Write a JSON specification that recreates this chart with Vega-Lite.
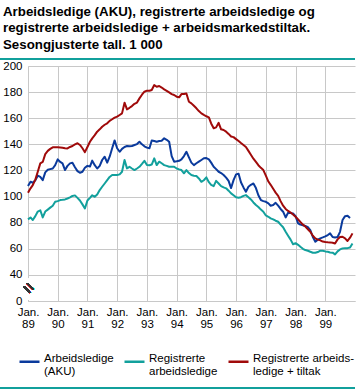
{
  "$schema": "https://vega.github.io/schema/vega-lite/v6.json",
  "width": 327,
  "height": 235,
  "autosize": {"type": "none"},
  "padding": {"left": 28, "top": 66, "right": 4, "bottom": 89},
  "background": "white",
  "config": {"view": {"stroke": null}, "font": "Liberation Sans", "axis": {"labelOverlap": false}},
  "title": {
    "text": ["Arbeidsledige (AKU), registrerte arbeidsledige og", "registrerte arbeidsledige + arbeidsmarkedstiltak.", "Sesongjusterte tall. 1 000"],
    "anchor": "start",
    "frame": "group",
    "font": "Liberation Sans",
    "fontSize": 13.3,
    "fontWeight": "bold",
    "color": "#000000",
    "lineHeight": 16.5,
    "dx": -25,
    "dy": 3,
    "offset": 10
  },
  "data": {"values": [
    {"d":"1989-01","s":"AKU","v":108},{"d":"1989-02","s":"AKU","v":111.4},{"d":"1989-03","s":"AKU","v":110.6},{"d":"1989-04","s":"AKU","v":112.5},{"d":"1989-05","s":"AKU","v":116},{"d":"1989-06","s":"AKU","v":115},
    {"d":"1989-07","s":"AKU","v":112.6},{"d":"1989-08","s":"AKU","v":118.5},{"d":"1989-09","s":"AKU","v":120.5},{"d":"1989-10","s":"AKU","v":121},{"d":"1989-11","s":"AKU","v":121.5},{"d":"1989-12","s":"AKU","v":124},
    {"d":"1990-01","s":"AKU","v":128.5},{"d":"1990-02","s":"AKU","v":126.5},{"d":"1990-03","s":"AKU","v":125.4},{"d":"1990-04","s":"AKU","v":120.3},{"d":"1990-05","s":"AKU","v":123.5},{"d":"1990-06","s":"AKU","v":125.4},
    {"d":"1990-07","s":"AKU","v":125.9},{"d":"1990-08","s":"AKU","v":122.5},{"d":"1990-09","s":"AKU","v":119.5},{"d":"1990-10","s":"AKU","v":118.2},{"d":"1990-11","s":"AKU","v":119},{"d":"1990-12","s":"AKU","v":122},
    {"d":"1991-01","s":"AKU","v":123.5},{"d":"1991-02","s":"AKU","v":123},{"d":"1991-03","s":"AKU","v":127.5},{"d":"1991-04","s":"AKU","v":124},{"d":"1991-05","s":"AKU","v":121.5},{"d":"1991-06","s":"AKU","v":123.5},
    {"d":"1991-07","s":"AKU","v":128},{"d":"1991-08","s":"AKU","v":130.5},{"d":"1991-09","s":"AKU","v":126},{"d":"1991-10","s":"AKU","v":130.5},{"d":"1991-11","s":"AKU","v":137},{"d":"1991-12","s":"AKU","v":143},
    {"d":"1992-01","s":"AKU","v":137},{"d":"1992-02","s":"AKU","v":134.3},{"d":"1992-03","s":"AKU","v":136.5},{"d":"1992-04","s":"AKU","v":138},{"d":"1992-05","s":"AKU","v":138.7},{"d":"1992-06","s":"AKU","v":138.5},
    {"d":"1992-07","s":"AKU","v":138.7},{"d":"1992-08","s":"AKU","v":139.5},{"d":"1992-09","s":"AKU","v":140.2},{"d":"1992-10","s":"AKU","v":142},{"d":"1992-11","s":"AKU","v":140},{"d":"1992-12","s":"AKU","v":138.5},
    {"d":"1993-01","s":"AKU","v":137.5},{"d":"1993-02","s":"AKU","v":137},{"d":"1993-03","s":"AKU","v":143},{"d":"1993-04","s":"AKU","v":142.5},{"d":"1993-05","s":"AKU","v":142},{"d":"1993-06","s":"AKU","v":142.5},
    {"d":"1993-07","s":"AKU","v":142.8},{"d":"1993-08","s":"AKU","v":144.6},{"d":"1993-09","s":"AKU","v":143.5},{"d":"1993-10","s":"AKU","v":142},{"d":"1993-11","s":"AKU","v":131},{"d":"1993-12","s":"AKU","v":126.7},
    {"d":"1994-01","s":"AKU","v":127},{"d":"1994-02","s":"AKU","v":127.4},{"d":"1994-03","s":"AKU","v":128.5},{"d":"1994-04","s":"AKU","v":131},{"d":"1994-05","s":"AKU","v":134.3},{"d":"1994-06","s":"AKU","v":130},
    {"d":"1994-07","s":"AKU","v":126},{"d":"1994-08","s":"AKU","v":124.1},{"d":"1994-09","s":"AKU","v":125.5},{"d":"1994-10","s":"AKU","v":126.7},{"d":"1994-11","s":"AKU","v":128},{"d":"1994-12","s":"AKU","v":129.3},
    {"d":"1995-01","s":"AKU","v":129.5},{"d":"1995-02","s":"AKU","v":128.5},{"d":"1995-03","s":"AKU","v":126},{"d":"1995-04","s":"AKU","v":122.8},{"d":"1995-05","s":"AKU","v":121},{"d":"1995-06","s":"AKU","v":119},
    {"d":"1995-07","s":"AKU","v":118},{"d":"1995-08","s":"AKU","v":116.5},{"d":"1995-09","s":"AKU","v":114.5},{"d":"1995-10","s":"AKU","v":112},{"d":"1995-11","s":"AKU","v":106.5},{"d":"1995-12","s":"AKU","v":112.6},
    {"d":"1996-01","s":"AKU","v":117},{"d":"1996-02","s":"AKU","v":117.5},{"d":"1996-03","s":"AKU","v":111},{"d":"1996-04","s":"AKU","v":107},{"d":"1996-05","s":"AKU","v":103.7},{"d":"1996-06","s":"AKU","v":107.5},
    {"d":"1996-07","s":"AKU","v":109},{"d":"1996-08","s":"AKU","v":110},{"d":"1996-09","s":"AKU","v":106.5},{"d":"1996-10","s":"AKU","v":101},{"d":"1996-11","s":"AKU","v":97.3},{"d":"1996-12","s":"AKU","v":96.5},
    {"d":"1997-01","s":"AKU","v":96},{"d":"1997-02","s":"AKU","v":94.8},{"d":"1997-03","s":"AKU","v":93},{"d":"1997-04","s":"AKU","v":93.5},{"d":"1997-05","s":"AKU","v":95.2},{"d":"1997-06","s":"AKU","v":93},
    {"d":"1997-07","s":"AKU","v":90.5},{"d":"1997-08","s":"AKU","v":88.4},{"d":"1997-09","s":"AKU","v":84},{"d":"1997-10","s":"AKU","v":87.6},{"d":"1997-11","s":"AKU","v":87.3},{"d":"1997-12","s":"AKU","v":87},
    {"d":"1998-01","s":"AKU","v":85},{"d":"1998-02","s":"AKU","v":79.5},{"d":"1998-03","s":"AKU","v":78.5},{"d":"1998-04","s":"AKU","v":78},{"d":"1998-05","s":"AKU","v":77.5},{"d":"1998-06","s":"AKU","v":76.5},
    {"d":"1998-07","s":"AKU","v":74.3},{"d":"1998-08","s":"AKU","v":69},{"d":"1998-09","s":"AKU","v":65.4},{"d":"1998-10","s":"AKU","v":67},{"d":"1998-11","s":"AKU","v":68},{"d":"1998-12","s":"AKU","v":68.7},
    {"d":"1999-01","s":"AKU","v":69.5},{"d":"1999-02","s":"AKU","v":70.5},{"d":"1999-03","s":"AKU","v":71.8},{"d":"1999-04","s":"AKU","v":69},{"d":"1999-05","s":"AKU","v":68.7},{"d":"1999-06","s":"AKU","v":69},
    {"d":"1999-07","s":"AKU","v":73},{"d":"1999-08","s":"AKU","v":82},{"d":"1999-09","s":"AKU","v":85},{"d":"1999-10","s":"AKU","v":85.3},{"d":"1999-11","s":"AKU","v":83.5},

    {"d":"1989-01","s":"Reg","v":82.5},{"d":"1989-02","s":"Reg","v":84},{"d":"1989-03","s":"Reg","v":82},{"d":"1989-04","s":"Reg","v":85},{"d":"1989-05","s":"Reg","v":88.5},{"d":"1989-06","s":"Reg","v":89.5},
    {"d":"1989-07","s":"Reg","v":84},{"d":"1989-08","s":"Reg","v":88.5},{"d":"1989-09","s":"Reg","v":90},{"d":"1989-10","s":"Reg","v":91.5},{"d":"1989-11","s":"Reg","v":93},{"d":"1989-12","s":"Reg","v":96},
    {"d":"1990-01","s":"Reg","v":96.5},{"d":"1990-02","s":"Reg","v":97.3},{"d":"1990-03","s":"Reg","v":97.5},{"d":"1990-04","s":"Reg","v":97.8},{"d":"1990-05","s":"Reg","v":98.5},{"d":"1990-06","s":"Reg","v":99.4},
    {"d":"1990-07","s":"Reg","v":100.5},{"d":"1990-08","s":"Reg","v":100.9},{"d":"1990-09","s":"Reg","v":99},{"d":"1990-10","s":"Reg","v":97},{"d":"1990-11","s":"Reg","v":94},{"d":"1990-12","s":"Reg","v":90.9},
    {"d":"1991-01","s":"Reg","v":97},{"d":"1991-02","s":"Reg","v":99},{"d":"1991-03","s":"Reg","v":101},{"d":"1991-04","s":"Reg","v":99.8},{"d":"1991-05","s":"Reg","v":101.5},{"d":"1991-06","s":"Reg","v":105},
    {"d":"1991-07","s":"Reg","v":107.5},{"d":"1991-08","s":"Reg","v":110},{"d":"1991-09","s":"Reg","v":112.5},{"d":"1991-10","s":"Reg","v":115},{"d":"1991-11","s":"Reg","v":116.5},{"d":"1991-12","s":"Reg","v":116.5},
    {"d":"1992-01","s":"Reg","v":116.5},{"d":"1992-02","s":"Reg","v":117},{"d":"1992-03","s":"Reg","v":119},{"d":"1992-04","s":"Reg","v":128},{"d":"1992-05","s":"Reg","v":121.6},{"d":"1992-06","s":"Reg","v":122.8},
    {"d":"1992-07","s":"Reg","v":121.5},{"d":"1992-08","s":"Reg","v":120.3},{"d":"1992-09","s":"Reg","v":121.5},{"d":"1992-10","s":"Reg","v":122.8},{"d":"1992-11","s":"Reg","v":125},{"d":"1992-12","s":"Reg","v":127.4},
    {"d":"1993-01","s":"Reg","v":124.1},{"d":"1993-02","s":"Reg","v":124},{"d":"1993-03","s":"Reg","v":124.5},{"d":"1993-04","s":"Reg","v":129.3},{"d":"1993-05","s":"Reg","v":124.1},{"d":"1993-06","s":"Reg","v":126.7},
    {"d":"1993-07","s":"Reg","v":125.5},{"d":"1993-08","s":"Reg","v":124.1},{"d":"1993-09","s":"Reg","v":123.5},{"d":"1993-10","s":"Reg","v":122.8},{"d":"1993-11","s":"Reg","v":122.8},{"d":"1993-12","s":"Reg","v":122.8},
    {"d":"1994-01","s":"Reg","v":121.5},{"d":"1994-02","s":"Reg","v":120.8},{"d":"1994-03","s":"Reg","v":120.3},{"d":"1994-04","s":"Reg","v":117.8},{"d":"1994-05","s":"Reg","v":120.3},{"d":"1994-06","s":"Reg","v":118},
    {"d":"1994-07","s":"Reg","v":116.5},{"d":"1994-08","s":"Reg","v":116},{"d":"1994-09","s":"Reg","v":115.7},{"d":"1994-10","s":"Reg","v":113.9},{"d":"1994-11","s":"Reg","v":111.3},{"d":"1994-12","s":"Reg","v":112.5},
    {"d":"1995-01","s":"Reg","v":114.7},{"d":"1995-02","s":"Reg","v":111},{"d":"1995-03","s":"Reg","v":109},{"d":"1995-04","s":"Reg","v":108},{"d":"1995-05","s":"Reg","v":112},{"d":"1995-06","s":"Reg","v":110},
    {"d":"1995-07","s":"Reg","v":108},{"d":"1995-08","s":"Reg","v":107},{"d":"1995-09","s":"Reg","v":106.3},{"d":"1995-10","s":"Reg","v":104.5},{"d":"1995-11","s":"Reg","v":102.4},{"d":"1995-12","s":"Reg","v":101},
    {"d":"1996-01","s":"Reg","v":99.4},{"d":"1996-02","s":"Reg","v":99.1},{"d":"1996-03","s":"Reg","v":99.5},{"d":"1996-04","s":"Reg","v":100.5},{"d":"1996-05","s":"Reg","v":101.1},{"d":"1996-06","s":"Reg","v":99.5},
    {"d":"1996-07","s":"Reg","v":97.8},{"d":"1996-08","s":"Reg","v":95.5},{"d":"1996-09","s":"Reg","v":93.5},{"d":"1996-10","s":"Reg","v":92},{"d":"1996-11","s":"Reg","v":90},{"d":"1996-12","s":"Reg","v":88.4},
    {"d":"1997-01","s":"Reg","v":85.5},{"d":"1997-02","s":"Reg","v":84.5},{"d":"1997-03","s":"Reg","v":83.3},{"d":"1997-04","s":"Reg","v":82.5},{"d":"1997-05","s":"Reg","v":81.5},{"d":"1997-06","s":"Reg","v":80.7},
    {"d":"1997-07","s":"Reg","v":78.5},{"d":"1997-08","s":"Reg","v":76.5},{"d":"1997-09","s":"Reg","v":73},{"d":"1997-10","s":"Reg","v":70},{"d":"1997-11","s":"Reg","v":67},{"d":"1997-12","s":"Reg","v":63.5},
    {"d":"1998-01","s":"Reg","v":64.3},{"d":"1998-02","s":"Reg","v":63},{"d":"1998-03","s":"Reg","v":61.5},{"d":"1998-04","s":"Reg","v":60},{"d":"1998-05","s":"Reg","v":59},{"d":"1998-06","s":"Reg","v":58.5},
    {"d":"1998-07","s":"Reg","v":57.7},{"d":"1998-08","s":"Reg","v":57},{"d":"1998-09","s":"Reg","v":56.9},{"d":"1998-10","s":"Reg","v":57.5},{"d":"1998-11","s":"Reg","v":58.5},{"d":"1998-12","s":"Reg","v":58.5},
    {"d":"1999-01","s":"Reg","v":58},{"d":"1999-02","s":"Reg","v":57.7},{"d":"1999-03","s":"Reg","v":57.2},{"d":"1999-04","s":"Reg","v":57},{"d":"1999-05","s":"Reg","v":55.7},{"d":"1999-06","s":"Reg","v":58},
    {"d":"1999-07","s":"Reg","v":59.5},{"d":"1999-08","s":"Reg","v":60.3},{"d":"1999-09","s":"Reg","v":60.5},{"d":"1999-10","s":"Reg","v":60.5},{"d":"1999-11","s":"Reg","v":61},{"d":"1999-12","s":"Reg","v":64.1},

    {"d":"1989-01","s":"Tiltak","v":103},{"d":"1989-02","s":"Tiltak","v":106.3},{"d":"1989-03","s":"Tiltak","v":108.8},{"d":"1989-04","s":"Tiltak","v":113},{"d":"1989-05","s":"Tiltak","v":119},{"d":"1989-06","s":"Tiltak","v":125.4},
    {"d":"1989-07","s":"Tiltak","v":126.5},{"d":"1989-08","s":"Tiltak","v":132.5},{"d":"1989-09","s":"Tiltak","v":135},{"d":"1989-10","s":"Tiltak","v":136.5},{"d":"1989-11","s":"Tiltak","v":137.7},{"d":"1989-12","s":"Tiltak","v":137.7},
    {"d":"1990-01","s":"Tiltak","v":137.7},{"d":"1990-02","s":"Tiltak","v":137.5},{"d":"1990-03","s":"Tiltak","v":137.3},{"d":"1990-04","s":"Tiltak","v":137},{"d":"1990-05","s":"Tiltak","v":136.9},{"d":"1990-06","s":"Tiltak","v":138},
    {"d":"1990-07","s":"Tiltak","v":138.7},{"d":"1990-08","s":"Tiltak","v":140},{"d":"1990-09","s":"Tiltak","v":140.8},{"d":"1990-10","s":"Tiltak","v":139.5},{"d":"1990-11","s":"Tiltak","v":137},{"d":"1990-12","s":"Tiltak","v":134},
    {"d":"1991-01","s":"Tiltak","v":138},{"d":"1991-02","s":"Tiltak","v":142},{"d":"1991-03","s":"Tiltak","v":144.6},{"d":"1991-04","s":"Tiltak","v":147},{"d":"1991-05","s":"Tiltak","v":149.7},{"d":"1991-06","s":"Tiltak","v":151.5},
    {"d":"1991-07","s":"Tiltak","v":153.5},{"d":"1991-08","s":"Tiltak","v":155},{"d":"1991-09","s":"Tiltak","v":156.1},{"d":"1991-10","s":"Tiltak","v":158},{"d":"1991-11","s":"Tiltak","v":159.2},{"d":"1991-12","s":"Tiltak","v":160.5},
    {"d":"1992-01","s":"Tiltak","v":161.2},{"d":"1992-02","s":"Tiltak","v":162.5},{"d":"1992-03","s":"Tiltak","v":163.7},{"d":"1992-04","s":"Tiltak","v":171.9},{"d":"1992-05","s":"Tiltak","v":166.8},{"d":"1992-06","s":"Tiltak","v":168},
    {"d":"1992-07","s":"Tiltak","v":169.3},{"d":"1992-08","s":"Tiltak","v":171},{"d":"1992-09","s":"Tiltak","v":172},{"d":"1992-10","s":"Tiltak","v":175.2},{"d":"1992-11","s":"Tiltak","v":178},{"d":"1992-12","s":"Tiltak","v":180.3},
    {"d":"1993-01","s":"Tiltak","v":181.1},{"d":"1993-02","s":"Tiltak","v":181},{"d":"1993-03","s":"Tiltak","v":181.6},{"d":"1993-04","s":"Tiltak","v":185.4},{"d":"1993-05","s":"Tiltak","v":184.1},{"d":"1993-06","s":"Tiltak","v":184.7},
    {"d":"1993-07","s":"Tiltak","v":183.5},{"d":"1993-08","s":"Tiltak","v":182.1},{"d":"1993-09","s":"Tiltak","v":181},{"d":"1993-10","s":"Tiltak","v":179.8},{"d":"1993-11","s":"Tiltak","v":178.5},{"d":"1993-12","s":"Tiltak","v":177.8},
    {"d":"1994-01","s":"Tiltak","v":176.5},{"d":"1994-02","s":"Tiltak","v":176},{"d":"1994-03","s":"Tiltak","v":178.5},{"d":"1994-04","s":"Tiltak","v":178.5},{"d":"1994-05","s":"Tiltak","v":179},{"d":"1994-06","s":"Tiltak","v":172.6},
    {"d":"1994-07","s":"Tiltak","v":171.4},{"d":"1994-08","s":"Tiltak","v":169.5},{"d":"1994-09","s":"Tiltak","v":167.6},{"d":"1994-10","s":"Tiltak","v":165.5},{"d":"1994-11","s":"Tiltak","v":163.7},{"d":"1994-12","s":"Tiltak","v":162.5},
    {"d":"1995-01","s":"Tiltak","v":161.5},{"d":"1995-02","s":"Tiltak","v":160.7},{"d":"1995-03","s":"Tiltak","v":156},{"d":"1995-04","s":"Tiltak","v":152.3},{"d":"1995-05","s":"Tiltak","v":153},{"d":"1995-06","s":"Tiltak","v":156.5},
    {"d":"1995-07","s":"Tiltak","v":151.5},{"d":"1995-08","s":"Tiltak","v":151},{"d":"1995-09","s":"Tiltak","v":149.7},{"d":"1995-10","s":"Tiltak","v":148},{"d":"1995-11","s":"Tiltak","v":146},{"d":"1995-12","s":"Tiltak","v":145.5},
    {"d":"1996-01","s":"Tiltak","v":144},{"d":"1996-02","s":"Tiltak","v":142.5},{"d":"1996-03","s":"Tiltak","v":141},{"d":"1996-04","s":"Tiltak","v":139.5},{"d":"1996-05","s":"Tiltak","v":138},{"d":"1996-06","s":"Tiltak","v":135},
    {"d":"1996-07","s":"Tiltak","v":132},{"d":"1996-08","s":"Tiltak","v":129},{"d":"1996-09","s":"Tiltak","v":126.5},{"d":"1996-10","s":"Tiltak","v":124},{"d":"1996-11","s":"Tiltak","v":122},{"d":"1996-12","s":"Tiltak","v":120.3},
    {"d":"1997-01","s":"Tiltak","v":116},{"d":"1997-02","s":"Tiltak","v":111.5},{"d":"1997-03","s":"Tiltak","v":109},{"d":"1997-04","s":"Tiltak","v":106},{"d":"1997-05","s":"Tiltak","v":103},{"d":"1997-06","s":"Tiltak","v":100.5},
    {"d":"1997-07","s":"Tiltak","v":96.5},{"d":"1997-08","s":"Tiltak","v":93},{"d":"1997-09","s":"Tiltak","v":90.5},{"d":"1997-10","s":"Tiltak","v":89},{"d":"1997-11","s":"Tiltak","v":87.8},{"d":"1997-12","s":"Tiltak","v":86.3},
    {"d":"1998-01","s":"Tiltak","v":84.5},{"d":"1998-02","s":"Tiltak","v":82.5},{"d":"1998-03","s":"Tiltak","v":80.5},{"d":"1998-04","s":"Tiltak","v":78.5},{"d":"1998-05","s":"Tiltak","v":77},{"d":"1998-06","s":"Tiltak","v":75},
    {"d":"1998-07","s":"Tiltak","v":73},{"d":"1998-08","s":"Tiltak","v":70},{"d":"1998-09","s":"Tiltak","v":68},{"d":"1998-10","s":"Tiltak","v":67},{"d":"1998-11","s":"Tiltak","v":66.5},{"d":"1998-12","s":"Tiltak","v":65.5},
    {"d":"1999-01","s":"Tiltak","v":65.2},{"d":"1999-02","s":"Tiltak","v":65},{"d":"1999-03","s":"Tiltak","v":64.9},{"d":"1999-04","s":"Tiltak","v":64.6},{"d":"1999-05","s":"Tiltak","v":64.1},{"d":"1999-06","s":"Tiltak","v":67.2},
    {"d":"1999-07","s":"Tiltak","v":69},{"d":"1999-08","s":"Tiltak","v":69.2},{"d":"1999-09","s":"Tiltak","v":68},{"d":"1999-10","s":"Tiltak","v":66},{"d":"1999-11","s":"Tiltak","v":68.5},{"d":"1999-12","s":"Tiltak","v":71.8}
  ]},
  "layer": [
    {
      "mark": {"type": "line", "strokeWidth": 2, "strokeJoin": "round"},
      "encoding": {
        "x": {
          "field": "d", "type": "temporal",
          "scale": {"type": "utc", "domain": [{"year": 1989, "month": 1, "date": 1, "utc": true}, {"year": 2000, "month": 1, "date": 1, "utc": true}]},
          "axis": {
            "title": null, "grid": true, "gridColor": "#c8c8c8", "domainColor": "#c8c8c8",
            "tickSize": 0, "labelPadding": 5, "labelFontSize": 11.5, "labelColor": "#000000",
            "labelFont": "Liberation Sans", "labelLineHeight": 12,
            "tickCount": 30,
            "values": [
              {"year": 1989, "month": 1, "date": 1, "utc": true}, {"year": 1990, "month": 1, "date": 1, "utc": true},
              {"year": 1991, "month": 1, "date": 1, "utc": true}, {"year": 1992, "month": 1, "date": 1, "utc": true},
              {"year": 1993, "month": 1, "date": 1, "utc": true}, {"year": 1994, "month": 1, "date": 1, "utc": true},
              {"year": 1995, "month": 1, "date": 1, "utc": true}, {"year": 1996, "month": 1, "date": 1, "utc": true},
              {"year": 1997, "month": 1, "date": 1, "utc": true}, {"year": 1998, "month": 1, "date": 1, "utc": true},
              {"year": 1999, "month": 1, "date": 1, "utc": true}
            ],
            "labelExpr": "['Jan.', utcFormat(datum.value, '%y')]",
            "labelFlush": false, "labelOverlap": false
          }
        },
        "y": {
          "field": "v", "type": "quantitative",
          "scale": {"domain": [20, 200], "nice": false, "zero": false},
          "axis": {
            "title": null, "grid": true, "gridColor": "#c8c8c8", "domainColor": "#c8c8c8",
            "tickSize": 0, "labelPadding": 6, "labelFontSize": 11.5, "labelColor": "#000000",
            "labelFont": "Liberation Sans",
            "tickCount": 30,
            "values": [20, 40, 60, 80, 100, 120, 140, 160, 180, 200],
            "labelExpr": "datum.value == 20 ? '0' : datum.label",
            "labelOverlap": false, "labelFlush": false
          }
        },
        "color": {
          "field": "s", "type": "nominal",
          "scale": {"domain": ["AKU", "Reg", "Tiltak"], "range": ["#0a3a9c", "#12a09c", "#a00a0a"]},
          "legend": {
            "orient": "none", "legendX": -10, "legendY": 284,
            "direction": "horizontal", "columns": 3, "title": null,
            "symbolType": "stroke", "symbolStrokeWidth": 2.5, "symbolSize": 400,
            "labelFont": "Liberation Sans", "labelFontSize": 11.5, "labelColor": "#000000",
            "labelBaseline": "alphabetic", "labelOffset": 3, "labelLimit": 200,
            "columnPadding": 5, "padding": 0, "labelLineHeight": 13,
            "labelExpr": "datum.label == 'AKU' ? ['Arbeidsledige', '(AKU)'] : datum.label == 'Reg' ? ['Registrerte', 'arbeidsledige'] : ['Registrerte arbeids-', 'ledige + tiltak']"
          }
        }
      }
    },
    {
      "mark": {"type": "rule", "color": "#12a09c", "strokeWidth": 1.5},
      "encoding": {
        "x": {"datum": {"year": 1988, "month": 1, "date": 20, "utc": true}, "type": "temporal"},
        "x2": {"datum": {"year": 2000, "month": 1, "date": 1, "utc": true}},
        "y": {"datum": 205.4, "type": "quantitative"}
      }
    },
    {
      "mark": {"type": "rule", "color": "#12a09c", "strokeWidth": 1.5},
      "encoding": {
        "x": {"datum": {"year": 1988, "month": 1, "date": 20, "utc": true}, "type": "temporal"},
        "x2": {"datum": {"year": 2000, "month": 1, "date": 1, "utc": true}},
        "y": {"datum": -46.6, "type": "quantitative"}
      }
    },
    {
      "mark": {"type": "rule", "color": "white", "strokeWidth": 3},
      "encoding": {
        "x": {"datum": {"year": 1989, "month": 1, "date": 1, "utc": true}, "type": "temporal"},
        "y": {"datum": 21, "type": "quantitative"},
        "y2": {"datum": 37}
      }
    },
    {
      "mark": {"type": "text", "text": "=", "angle": 45, "fontSize": 18, "color": "#333333", "font": "Liberation Sans"},
      "encoding": {
        "x": {"datum": {"year": 1989, "month": 1, "date": 1, "utc": true}, "type": "temporal"},
        "y": {"datum": 29.5, "type": "quantitative"}
      }
    }
  ]
}
